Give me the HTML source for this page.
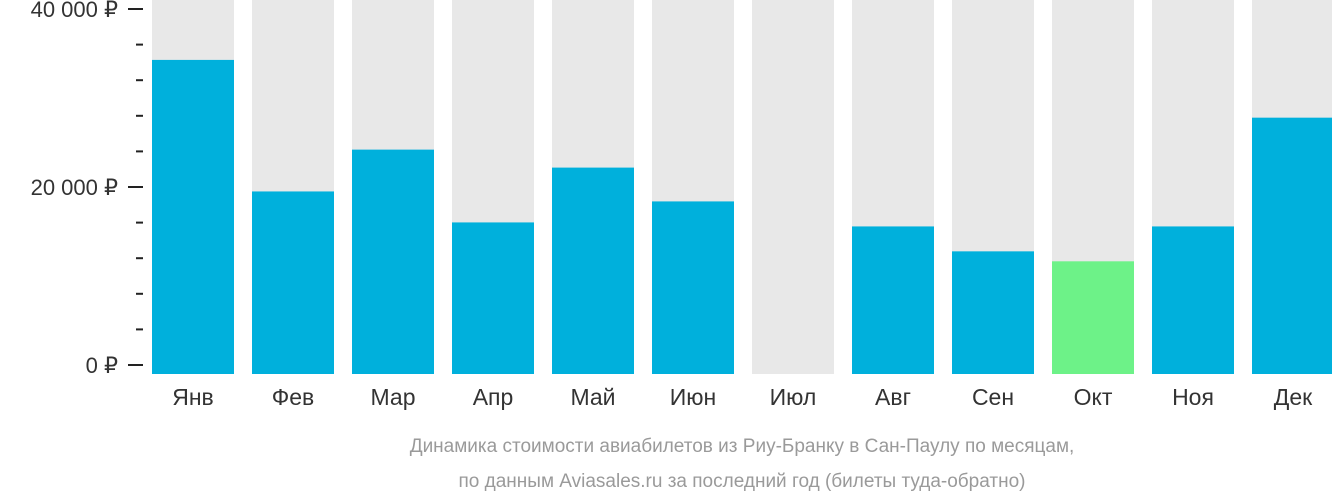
<!DOCTYPE html>
<html><head><meta charset="utf-8"><style>
html,body{margin:0;padding:0;background:#fff;width:1332px;height:502px;overflow:hidden}
svg{display:block}
text{font-family:"Liberation Sans","DejaVu Sans",sans-serif}
</style></head><body>
<svg id="chart" width="1332" height="502" viewBox="0 0 1332 502" xmlns="http://www.w3.org/2000/svg">
<g id="ticks"></g>
<g id="bars"></g>
<g id="xlabels"></g>
<text x="742" y="452" text-anchor="middle" font-size="19" fill="#9a9a9a">Динамика стоимости авиабилетов из Риу-Бранку в Сан-Паулу по месяцам,</text>
<text x="742" y="487" text-anchor="middle" font-size="19" fill="#9a9a9a">по данным Aviasales.ru за последний год (билеты туда-обратно)</text>
</svg>
<script>
const months = ["Янв","Фев","Мар","Апр","Май","Июн","Июл","Авг","Сен","Окт","Ноя","Дек"];
const prices = [34280,19500,24200,16020,22180,18380,0,15570,12770,11650,15570,27790];
const cheapestIndex = 9;
const majorTicks = [0,20000,40000];
const majorLabels = ["0 ₽","20 000 ₽","40 000 ₽"];
const minorTicks = [4000,8000,12000,16000,24000,28000,32000,36000];

const NS="http://www.w3.org/2000/svg";
const y0=365, yTop=9, maxV=40000, barBottom=374;
const y=v=>y0-(v/maxV)*(y0-yTop);
const x=i=>152+i*100;
const bw=82;
function mk(tag,attrs,parent){const e=document.createElementNS(NS,tag);for(const k in attrs)e.setAttribute(k,attrs[k]);parent.appendChild(e);return e;}
const gt=document.getElementById('ticks'),gb=document.getElementById('bars'),gx=document.getElementById('xlabels');
majorTicks.forEach((v,i)=>{
  const l=mk('line',{x1:128,x2:143,y1:y(v),y2:y(v),stroke:'#222','stroke-width':2},gt);
  
  
  const t=mk('text',{x:118,y:y(v)+8,'text-anchor':'end','font-size':22,fill:'#333'},gt);
  t.textContent=majorLabels[i];
  
  
});
minorTicks.forEach(v=>{
  const l=mk('line',{x1:136,x2:143,y1:y(v),y2:y(v),stroke:'#222','stroke-width':2},gt);
  
  
});
months.forEach((m,i)=>{
  const bg=mk('rect',{x:x(i),y:0,width:bw,height:barBottom,fill:'#e8e8e8'},gb);
  
  
  if(prices[i]>0){
    const r=mk('rect',{x:x(i),y:y(prices[i]),width:bw,height:barBottom-y(prices[i]),fill:i===cheapestIndex?'#6df288':'#00b0dc'},gb);
    
    
  }
  const t=mk('text',{x:x(i)+bw/2,y:405,'text-anchor':'middle','font-size':23,fill:'#333'},gx);
  t.textContent=m;
  
  
});
</script>
</body></html>
